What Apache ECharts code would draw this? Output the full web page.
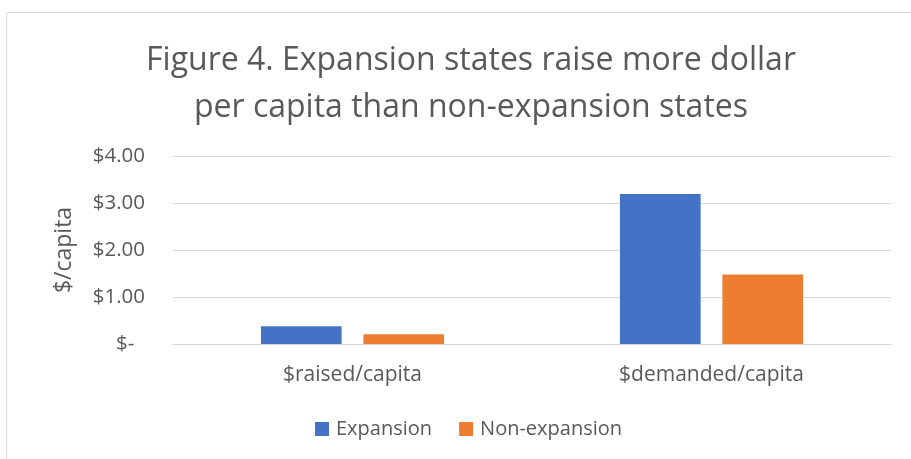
<!DOCTYPE html>
<html>
<head>
<meta charset="utf-8">
<script src="https://cdn.jsdelivr.net/npm/echarts@6/dist/echarts.min.js"></script>
<style>
  html, body { margin: 0; padding: 0; background: #fff; }
  #chart { width: 911px; height: 459px; }
</style>
</head>
<body>
<div id="chart"></div>
<script>
const categories = ['$raised/capita', '$demanded/capita']
const expansion = [0.38, 3.19]
const nonExpansion = [0.21, 1.48]
const yTicks = [0, 1, 2, 3, 4]

const textColor = '#595959'
const font = 'Open Sans'

const chart = echarts.init(document.getElementById('chart'))

chart.setOption({
  animation: false,
  title: {
    text: 'Figure 4. Expansion states raise more dollar\nper capita than non-expansion states',
    left: 466,
    textAlign: 'center',
    top: 32,
    textStyle: { fontFamily: font, fontSize: 32, fontWeight: 'normal', color: textColor, lineHeight: 47 },
  },
  graphic: [{
    type: 'rect',
    shape: { x: 6.5, y: 12.5, width: 1000, height: 1000 },
    style: { fill: 'none', stroke: '#d9d9d9', lineWidth: 1 },
    silent: true,
  }],
  legend: {
    data: ['Expansion', 'Non-expansion'],
    bottom: 15,
    left: 310,
    icon: 'rect',
    itemWidth: 14,
    itemHeight: 14,
    itemGap: 27,
    textStyle: { fontFamily: font, fontSize: 20, color: textColor, padding: [0, 0, 0, 2] },
  },
  grid: { left: 173, right: 20, top: 156, bottom: 115 },
  xAxis: {
    type: 'category',
    data: categories,
    axisTick: { show: false },
    axisLine: { lineStyle: { color: '#d9d9d9', width: 1 } },
    axisLabel: { fontFamily: font, fontSize: 21, color: textColor, margin: 21 },
  },
  yAxis: {
    type: 'value',
    min: yTicks[0],
    max: yTicks[yTicks.length - 1],
    interval: 1,
    name: '$/capita',
    nameLocation: 'middle',
    nameGap: 97,
    nameTextStyle: { fontFamily: font, fontSize: 23, color: textColor },
    axisLine: { show: false },
    axisTick: { show: false },
    splitLine: { lineStyle: { color: '#d9d9d9', width: 1 } },
    axisLabel: {
      fontFamily: font, fontSize: 20.5, color: textColor, margin: 28,
      formatter: v => (v === 0 ? '$-  ' : '$' + v.toFixed(2)),
    },
  },
  series: [
    {
      name: 'Expansion',
      type: 'bar',
      data: expansion,
      itemStyle: { color: '#4472c4' },
      barGap: '27%',
      barCategoryGap: '49%',
    },
    {
      name: 'Non-expansion',
      type: 'bar',
      data: nonExpansion,
      itemStyle: { color: '#ed7d31' },
    },
  ],
})
</script>
</body>
</html>
